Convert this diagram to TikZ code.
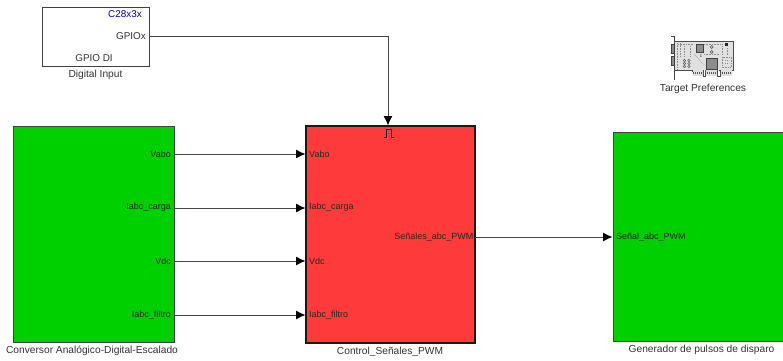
\documentclass[tikz,border=0pt]{standalone}
\usepackage{fontspec}
\setmainfont{Liberation Sans}
\usetikzlibrary{arrows.meta}
\definecolor{simgreen}{RGB}{0,208,0}
\definecolor{simred}{RGB}{255,58,58}
\definecolor{wiregray}{RGB}{70,70,70}
\definecolor{cardbg}{RGB}{224,224,224}
\tikzset{
 x=1pt,y=-1pt,
 blockbox/.style={draw=black!75,line width=1pt,anchor=north west,inner sep=0,outer sep=0},
 plabel/.style={font=\fontsize{9}{11}\selectfont,inner sep=0,text=black!85},
 glabel/.style={font=\fontsize{9.9}{12}\selectfont,inner sep=0,text=black!80},
 caption/.style={font=\fontsize{10.2}{12}\selectfont,inner sep=0,text=black!80},
 wire/.style={draw=wiregray,line width=0.9pt,-{Latex[length=9.5pt,width=9pt,black]}},
 chip/.style={draw=black!75,fill=black!45,line width=0.6pt},
 trace/.style={draw=black!45,line width=0.6pt,densely dotted},
 finger/.style={draw=black!65,line width=2.2pt,dash pattern=on 0.9pt off 1.1pt}
}
\begin{document}
\begin{tikzpicture}
\useasboundingbox (0,0) rectangle (783,360);
\node[blockbox,fill=white,minimum width=107pt,minimum height=59pt] (gpio) at (42,7) {};
\node[blockbox,fill=simgreen,minimum width=161pt,minimum height=216pt] (adc) at (13,126.5) {};
\node[blockbox,fill=simred,draw=black!90,line width=1.6pt,minimum width=169pt,minimum height=217pt] (ctrl) at (306,126) {};
\node[blockbox,fill=simgreen,minimum width=172pt,minimum height=209pt] (gen) at (613,132.5) {};
% port coordinates
\coordinate (gpioOut) at (149,36);
\coordinate (ctrlTop) at (388,125.5);
\foreach \n/\y in {a/154,b/208,c/261,d/315}{
 \coordinate (adc\n) at (174,\y);
 \coordinate (ctrl\n) at (305.5,\y);
}
\coordinate (ctrlOut) at (475,237);
\coordinate (genIn) at (612.5,237);
% wires
\draw[wire] (gpioOut) -| (ctrlTop);
\draw[wire] (adca) -- (ctrla);
\draw[wire] (adcb) -- (ctrlb);
\draw[wire] (adcc) -- (ctrlc);
\draw[wire] (adcd) -- (ctrld);
\draw[wire] (ctrlOut) -- (genIn);
% gpio texts
\node[glabel,anchor=east,text=blue!75!black] (t1) at (142,14) {C28x3x};
\node[glabel,anchor=east] (t2) at (146,36) {GPIOx};
\node[glabel,anchor=center] (t3) at (94,58.5) {GPIO DI};
\node[caption] (t4) at (95.5,74.5) {Digital Input};
% adc labels
\node[plabel,anchor=east] (l1) at (171,154) {Vabo};
\node[plabel,anchor=east] (l2) at (171,207.5) {Iabc\_carga};
\node[plabel,anchor=east] (l3) at (171,261) {Vdc};
\node[plabel,anchor=east] (l4) at (171,315) {Iabc\_filtro};
\node[caption] (c1) at (92,351) {Conversor Analógico-Digital-Escalado};
% control labels
\node[plabel,anchor=west] (m1) at (309,154) {Vabo};
\node[plabel,anchor=west] (m2) at (309,207.5) {Iabc\_carga};
\node[plabel,anchor=west] (m3) at (309,261) {Vdc};
\node[plabel,anchor=west] (m4) at (309,315) {Iabc\_filtro};
\node[plabel,anchor=east] (m5) at (473.5,237) {Señales\_abc\_PWM};
\node[caption] (c2) at (390,352) {Control\_Señales\_PWM};
\draw[black,line width=0.7pt] (383.5,137.5) -- (386,137.5) -- (386,129.5) -- (391,129.5) -- (391,137.5) -- (393.5,137.5);
% generator labels
\node[plabel,anchor=west] (g1) at (616,237) {Señal\_abc\_PWM};
\node[caption] (c3) at (701.5,350) {Generador de pulsos de disparo};
% target card
\fill[cardbg] (675,41) rectangle (733,70);
\draw[black!70,line width=0.7pt] (675,41) -- (733,41) -- (733,70) -- (719,70);
\draw[black!70,line width=0.7pt] (675,70) -- (692,70);
\fill[cardbg] (693,70) rectangle (703,76);
\fill[cardbg] (705,70) rectangle (717,76);
\fill[cardbg] (720,70) rectangle (732,76);
\draw[finger] (693,73) -- (703,73);
\draw[finger] (705,73) -- (717,73);
\draw[finger] (720,73) -- (732,73);
\draw[black!70,line width=0.7pt] (692,70) -- (692,72) (703.5,70) -- (703.5,76) -- (705,76) -- (705,70) (717.5,70) -- (717.5,76) -- (720,76) -- (720,70);
\draw[black!75,line width=1.4pt] (671,36.5) -- (674.5,36.5) -- (674.5,80);
\fill[black!45,draw=black!75,line width=0.6pt] (671,44.5) rectangle (674.5,53);
\fill[black!45,draw=black!75,line width=0.6pt] (671,56.5) rectangle (674.5,65);
\draw[chip] (696,44) rectangle (703,52);
\draw[chip] (706,58) rectangle (717,69);
\fill[black!85] (724.5,43) rectangle (727.5,46);
\draw[black!70,line width=0.6pt] (711.7,47) circle (1.5);
\draw[black!70,line width=0.6pt] (711.7,52) circle (1.5);
\node[font=\fontsize{5}{5}\selectfont,inner sep=0,text=black!75] (cc) at (701,56) {c};
\foreach \xa in {684.5,689}{\foreach \ya in {60.5,63.5,66.5}{
 \draw[black!60,line width=0.6pt] (\xa,\ya) circle (1.2);}}
\draw[trace] (722,57) rectangle (731,67);
\draw[trace] (725,60) -- (728,60) (725,63) -- (728,63);
\draw[trace] (677,43) -- (677,69);
\draw[trace] (680,43) -- (680,57);
\draw[trace] (684,46) -- (684,57);
\draw[trace] (690,46) -- (690,57);
\draw[trace] (704,44) -- (722,44);
\draw[trace] (722,46) -- (722,55);
\draw[trace] (678,44) -- (694,44);
\draw[trace] (694,54) -- (705,66);
\draw[trace] (727,48) -- (727,55);
\draw[trace] (704,54) -- (720,54);
\node[caption] (c4) at (703,88.5) {Target Preferences};
\end{tikzpicture}
\end{document}
